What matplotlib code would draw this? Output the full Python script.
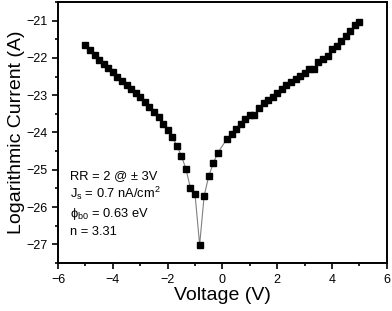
import numpy as np
import matplotlib
matplotlib.use('Agg')
from matplotlib import pyplot as plt

plt.rcParams['font.family'] = ['Liberation Sans', 'DejaVu Sans']
plt.rcParams['mathtext.fontset'] = 'custom'
plt.rcParams['mathtext.rm'] = 'Liberation Sans'
plt.rcParams['mathtext.it'] = 'Liberation Sans:italic'

# voltage steps of 1/6 V, point at 0 V missing
volt_left = [-5.0, -4.833, -4.667, -4.5, -4.333, -4.167, -4.0, -3.833, -3.667, -3.5,
             -3.333, -3.167, -3.0, -2.833, -2.667, -2.5, -2.333, -2.167, -2.0, -1.833,
             -1.667, -1.5, -1.333, -1.167, -1.0, -0.833, -0.667, -0.5, -0.333, -0.167]
cur_left = [-21.65, -21.80, -21.92, -22.05, -22.16, -22.28, -22.39, -22.51, -22.62, -22.72,
            -22.83, -22.94, -23.06, -23.17, -23.31, -23.45, -23.59, -23.76, -23.93, -24.12,
            -24.35, -24.62, -24.98, -25.49, -25.66, -27.01, -25.69, -25.17, -24.82, -24.54]
volt_right = [0.167, 0.333, 0.5, 0.667, 0.833, 1.0, 1.167, 1.333, 1.5, 1.667,
              1.833, 2.0, 2.167, 2.333, 2.5, 2.667, 2.833, 3.0, 3.167, 3.333,
              3.5, 3.667, 3.833, 4.0, 4.167, 4.333, 4.5, 4.667, 4.833, 5.0]
cur_right = [-24.17, -24.04, -23.90, -23.77, -23.65, -23.54, -23.53, -23.35, -23.22, -23.14,
             -23.04, -22.93, -22.83, -22.74, -22.65, -22.56, -22.48, -22.40, -22.31, -22.29,
             -22.12, -22.04, -21.94, -21.77, -21.67, -21.54, -21.42, -21.28, -21.12, -21.03]

V = np.array(volt_left + volt_right)
I = np.array(cur_left + cur_right)

fig = plt.figure(figsize=(3.92, 3.11), dpi=100)
ax = fig.add_axes([0.148, 0.154, 0.839, 0.840])

ax.plot(V, I, color='#808080', lw=0.8, zorder=1)
ax.plot(V, I, ls='none', marker='s', ms=3.9, color='black', zorder=2)

ax.set_xlim(-6, 6)
ax.set_ylim(-27.5, -20.5)
ax.set_xticks([-6, -4, -2, 0, 2, 4, 6])
ax.set_xticks([-5, -3, -1, 1, 3, 5], minor=True)
ax.set_yticks([-27, -26, -25, -24, -23, -22, -21])
ax.set_yticks(np.arange(-27.5, -20.4, 0.5), minor=True)
ax.tick_params(which='both', direction='out', labelsize=9, width=1.2)
ax.tick_params(which='major', length=4)
ax.tick_params(which='minor', length=2.5)
for s in ax.spines.values():
    s.set_linewidth(1.4)

ax.set_xlabel('Voltage (V)', fontsize=14, labelpad=1)
ax.set_ylabel('Logarithmic Current (A)', fontsize=14, labelpad=1)

lines = ['RR = 2 @ \u00b1 3V',
         r'J$_\mathrm{s}$ = 0.7 nA/cm$^\mathrm{2}$',
         '\u03d5$_\\mathrm{b0}$ = 0.63 eV',
         'n = 3.31']
ys = [-25.16, -25.64, -26.18, -26.66]
for t, y in zip(lines, ys):
    ax.text(-5.57, y, t, fontsize=9.3, va='center', ha='left')

fig.savefig('out.png', dpi=100)
